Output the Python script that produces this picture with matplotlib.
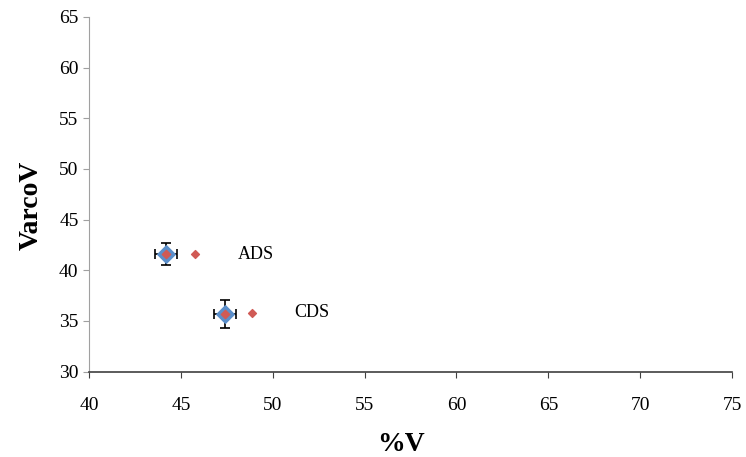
import matplotlib.pyplot as plt

# données
labels = ["ADS", "CDS"]
pct_v = [44.2, 47.4]
varco_v = [41.6, 35.7]
pct_v_err = [0.6, 0.6]
varco_v_err = [1.1, 1.4]
pct_v_ref = [45.75, 48.85]
varco_v_ref = [41.6, 35.8]
label_x = [48.1, 51.15]

plt.rcParams['font.family'] = ['Liberation Serif', 'DejaVu Serif']

fig = plt.figure(figsize=(7.46, 4.57), dpi=100)
ax = fig.add_axes([0.1193, 0.187, 0.862, 0.776])

ax.errorbar(pct_v, varco_v, xerr=pct_v_err, yerr=varco_v_err, fmt='none',
            ecolor='black', elinewidth=1.2, capsize=3.5, capthick=1.2, zorder=2)
ax.scatter(pct_v, varco_v, marker='D', s=80, color='#5B8FCB', zorder=3)
ax.scatter(pct_v, varco_v, marker='D', s=18, color='#D05A55', zorder=4)
ax.scatter(pct_v_ref, varco_v_ref, marker='D', s=16, color='#D05A55', zorder=4)

for lx, ly, lab in zip(label_x, varco_v_ref, labels):
    ax.text(lx, ly, lab, fontsize=13, va='center', ha='left')

ax.set_xlim(40, 75)
ax.set_ylim(30, 65)
ax.set_xticks(range(40, 76, 5))
ax.set_yticks(range(30, 66, 5))
ax.tick_params(labelsize=14, direction='out', length=4)
ax.tick_params(axis='x', pad=14, color='#404040')
ax.tick_params(axis='y', color='#A0A0A0')

ax.spines['top'].set_visible(False)
ax.spines['right'].set_visible(False)
ax.spines['left'].set_color('#A0A0A0')
ax.spines['bottom'].set_color('#404040')
ax.spines['bottom'].set_linewidth(1.2)

ax.set_xlabel('%V', fontsize=20, fontweight='bold')
ax.set_ylabel('VarcoV', fontsize=20, fontweight='bold')
ax.xaxis.set_label_coords(0.485, -0.17)
ax.yaxis.set_label_coords(-0.07, 0.47)

fig.savefig('out.png', dpi=100)
